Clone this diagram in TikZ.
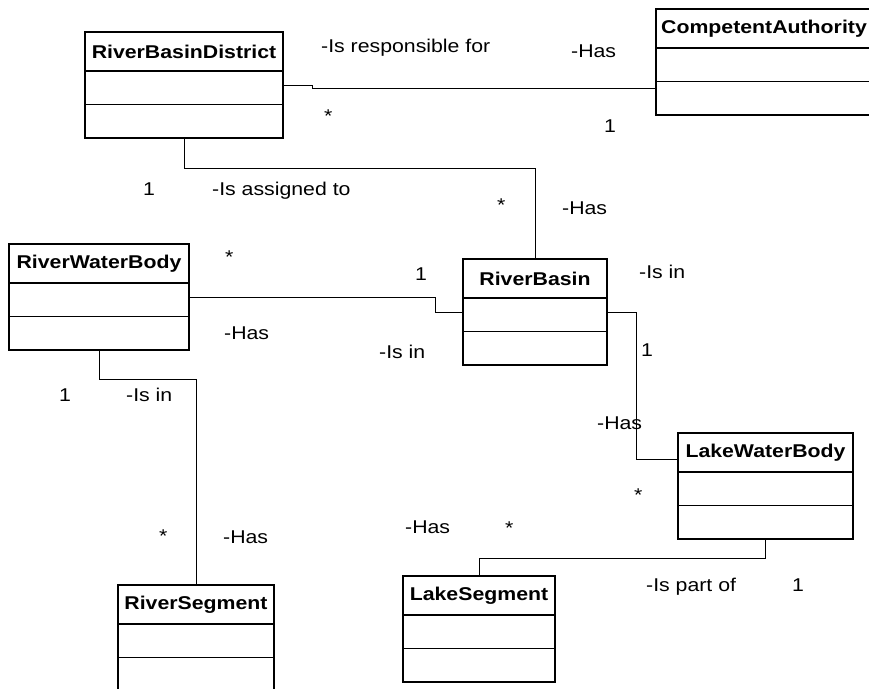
\documentclass[tikz,border=0pt]{standalone}
\usepackage{fontspec}
\setmainfont{Liberation Sans}[FakeStretch=1.15]
\usetikzlibrary{calc}

% A UML class: name, left, top, width, title
\newcommand\umlclass[5]{%
  \node[classbox, minimum width=#4, anchor=north west] (#1) at (#2,#3) {};
  \node[classtitle] (#1-title) at ($(#1.north)+(0,19.5)$) {#5};
  \draw[classline] ($(#1.north west)+(0,39)$) -- ($(#1.north east)+(0,39)$);
  \draw[classline] ($(#1.north west)+(0,72.5)$) -- ($(#1.north east)+(0,72.5)$);
}

\begin{document}
\begin{tikzpicture}[x=1pt,y=-1pt,
  classbox/.style={draw=black, line width=1.7pt, fill=white, inner sep=0pt,
                   outer sep=0pt, minimum height=106},
  classtitle/.style={font=\fontsize{18.5}{20}\selectfont\bfseries, inner sep=0pt},
  classline/.style={line width=1.7pt},
  assoc/.style={draw=black, line width=0.9pt},
  lbl/.style={font=\fontsize{18.5}{20}\selectfont, inner sep=0pt, anchor=base west},
]
\clip (0,0) rectangle (869,688);

% classes
\umlclass{rbd}{85}{32}{198}{RiverBasinDistrict}
\umlclass{ca}{656}{9}{216}{CompetentAuthority}
\umlclass{rb}{463}{259}{144}{RiverBasin}
\umlclass{rwb}{9}{244}{180}{RiverWaterBody}
\umlclass{lwb}{678}{433}{175}{LakeWaterBody}
\umlclass{ls}{403}{576}{152}{LakeSegment}
\umlclass{rs}{118}{585}{156}{RiverSegment}

% attachment points off the box centres
\coordinate (caport) at ($(ca.south west)+(0,-26.5)$);
\coordinate (lwbport) at ($(lwb.north west)+(0,26)$);

% associations
\draw[assoc] (rbd.east) -- ++(29,0) |- (caport);
\draw[assoc] (rbd.south) -- ++(0,30) -| (rb.north);
\draw[assoc] (rwb.east) -- ++(246,0) |- (rb.west);
\draw[assoc] (rb.east) -- ++(29,0) |- (lwbport);
\draw[assoc] (rwb.south) -- ++(0,29) -| (rs.north);
\draw[assoc] (lwb.south) -- ++(0,19) -| (ls.north);

% role names and multiplicities
\node[lbl] (l1) at (321,52) {-Is responsible for};
\node[lbl] (l2) at (571,57) {-Has};
\node[lbl] (l3) at (324,122) {*};
\node[lbl] (l4) at (604,132) {1};
\node[lbl] (l5) at (143,195) {1};
\node[lbl] (l6) at (212,195) {-Is assigned to};
\node[lbl] (l7) at (497,211) {*};
\node[lbl] (l8) at (562,214) {-Has};
\node[lbl] (l9) at (225,263) {*};
\node[lbl] (l10) at (415,280) {1};
\node[lbl] (l11) at (639,278) {-Is in};
\node[lbl] (l12) at (224,339) {-Has};
\node[lbl] (l13) at (379,358) {-Is in};
\node[lbl] (l14) at (641,356) {1};
\node[lbl] (l15) at (59,401) {1};
\node[lbl] (l16) at (126,401) {-Is in};
\node[lbl] (l17) at (597,429) {-Has};
\node[lbl] (l18) at (634,501) {*};
\node[lbl] (l19) at (405,533) {-Has};
\node[lbl] (l20) at (505,534) {*};
\node[lbl] (l21) at (159,542) {*};
\node[lbl] (l22) at (223,543) {-Has};
\node[lbl] (l23) at (646,591) {-Is part of};
\node[lbl] (l24) at (792,591) {1};
\end{tikzpicture}
\end{document}
